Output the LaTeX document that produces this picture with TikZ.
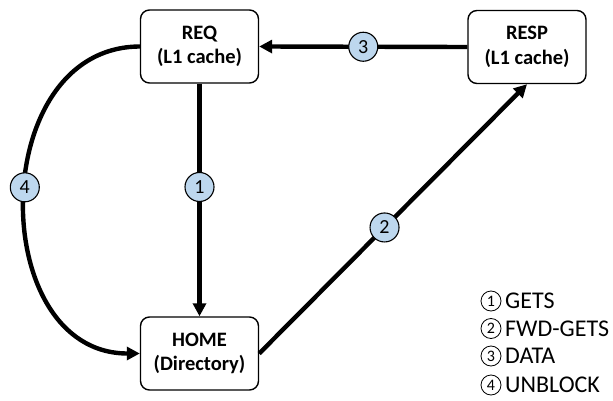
\documentclass[tikz,border=0pt]{standalone}
\usepackage{fontspec}
\setmainfont{Carlito}
\usetikzlibrary{arrows.meta}
\definecolor{tagblue}{HTML}{BDD7EE}
\begin{document}
\begin{tikzpicture}[x=1pt,y=-1pt,
  unit/.style={draw, line width=1.4pt, rounded corners=9pt, minimum width=118pt,
    minimum height=73pt, align=center, inner sep=0pt,
    font=\fontsize{20.5}{24.5}\selectfont\bfseries},
  msg/.style={line width=4.4pt, -{Triangle[length=13pt,width=13pt]}},
  tag/.style={circle, draw, line width=1.1pt, fill=tagblue, minimum size=29pt,
    inner sep=0pt, font=\fontsize{20}{20}\selectfont},
  key/.style={circle, draw, line width=0.8pt, minimum size=20pt, inner sep=0pt,
    font=\fontsize{16}{16}\selectfont},
  keytext/.style={anchor=base west, inner sep=0pt, font=\fontsize{24}{24}\selectfont}]
\useasboundingbox (0,0) rectangle (613,401);

% caches and directory
\node[unit] (req)  at (199.5,46.5) {REQ\\(L1 cache)};
\node[unit] (resp) at (527,47)     {RESP\\(L1 cache)};
\node[unit] (home) at (199.5,353.5) {HOME\\(Directory)};

% protocol messages
\draw[msg] (req.south) -- node[tag, pos=0.444] (t1) {1} (home.north);
\draw[msg] (home.east) -- node[tag, pos=0.468] (t2) {2} (resp.south);
\draw[msg] (resp.west) -- node[tag, pos=0.5] (t3) {3} (req.east);
\draw[msg] (req.west) .. controls (-14,47) and (-14,353.5) ..
  node[tag, pos=0.472] (t4) {4} (home.west);

% legend
\node[key] (k1) at (491,301)   {1};
\node[key] (k2) at (491,328.5) {2};
\node[key] (k3) at (491,356)   {3};
\node[key] (k4) at (491,385)   {4};
\node[keytext] (l1) at (505,308.5) {GETS};
\node[keytext] (l2) at (505,336)   {FWD-GETS};
\node[keytext] (l3) at (505,363.5) {DATA};
\node[keytext] (l4) at (505,392.5) {UNBLOCK};
\end{tikzpicture}
\end{document}
